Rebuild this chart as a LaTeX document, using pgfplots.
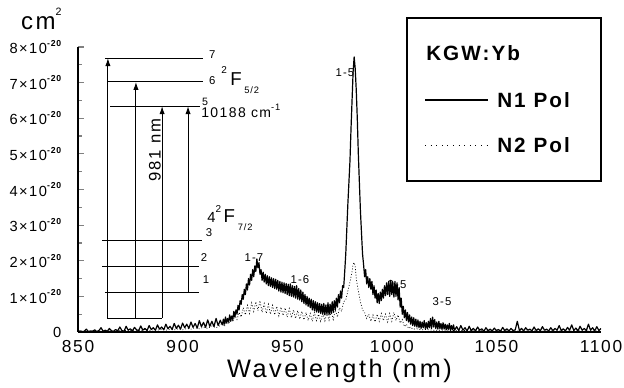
\documentclass[border=0pt]{standalone}
\usepackage{pgfplots}
\pgfplotsset{compat=1.18}
\usepackage{fontspec}
\setmainfont{Liberation Sans}[LetterSpace=10]
\usetikzlibrary{arrows.meta}
\newcommand\sci[1]{#1×10\raisebox{0.95ex}{\fontsize{6.5}{6.5}\selectfont\bfseries -20}}
\pgfplotstableread{
x y
850 0.01
851 0.03
852 0.01
853 0.02
854 0.08
855 0.01
856 0.03
857 0.02
858 0.06
859 0.01
860 0.04
861 0.12
862 0.02
863 0.05
864 0.02
865 0.10
866 0.03
867 0.02
868 0.07
869 0.03
870 0.14
871 0.04
872 0.02
873 0.16
874 0.05
875 0.09
876 0.03
877 0.13
878 0.06
879 0.04
880 0.17
881 0.05
882 0.10
883 0.04
884 0.18
885 0.07
886 0.12
887 0.05
888 0.20
889 0.08
890 0.14
891 0.06
892 0.22
893 0.09
894 0.16
895 0.07
896 0.24
897 0.10
898 0.19
899 0.08
900 0.25
901 0.12
902 0.22
903 0.10
904 0.28
905 0.13
906 0.24
907 0.11
908 0.32
909 0.15
910 0.27
911 0.13
912 0.34
913 0.16
914 0.30
915 0.15
916 0.38
917 0.18
918 0.33
919 0.20
919.5 0.36
920 0.22
920.5 0.42
921 0.25
921.5 0.38
922 0.28
922.5 0.48
923 0.30
923.5 0.45
924 0.35
924.5 0.58
925 0.42
925.5 0.62
926 0.50
926.5 0.75
927 0.62
927.5 0.88
928 0.78
928.5 1.05
929 0.92
929.5 1.20
930 1.05
930.5 1.35
931 1.18
931.5 1.50
932 1.32
932.5 1.62
933 1.45
933.5 1.75
934 1.55
934.5 1.85
935 1.70
935.5 2.05
936 1.80
936.5 1.95
937 1.62
937.5 1.75
938 1.45
938.5 1.68
939 1.40
939.5 1.62
940 1.35
940.5 1.58
941 1.30
941.5 1.55
942 1.28
942.5 1.52
943 1.25
943.5 1.50
944 1.22
944.5 1.48
945 1.20
945.5 1.45
946 1.15
946.5 1.42
947 1.12
947.5 1.40
948 1.10
948.5 1.38
949 1.08
949.5 1.36
950 1.05
950.5 1.34
951 1.02
951.5 1.35
952 1.00
952.5 1.30
953 0.98
953.5 1.28
954 0.95
954.5 1.30
955 0.92
955.5 1.22
956 0.90
956.5 1.18
957 0.85
957.5 1.12
958 0.80
958.5 1.05
959 0.76
959.5 1.00
960 0.72
960.5 0.95
961 0.68
961.5 0.92
962 0.62
962.5 0.88
963 0.60
963.5 0.85
964 0.56
964.5 0.82
965 0.55
965.5 0.80
966 0.52
966.5 0.78
967 0.50
967.5 0.80
968 0.48
968.5 0.76
969 0.50
969.5 0.82
970 0.48
970.5 0.78
971 0.52
971.5 0.85
972 0.55
972.5 0.88
973 0.62
973.5 0.95
974 0.70
974.5 1.05
975 0.82
975.5 1.15
976 0.95
976.5 1.30
977 1.25
977.5 1.70
978 2.20
978.5 2.90
979 3.60
979.5 4.20
980 4.80
980.5 5.70
981 6.50
981.5 7.30
982 7.72
982.5 7.40
983 6.80
983.5 6.00
984 5.00
984.5 4.20
985 3.40
985.5 2.80
986 2.20
986.5 1.90
987 1.55
987.5 1.75
988 1.35
988.5 1.55
989 1.25
989.5 1.50
990 1.20
990.5 1.42
991 1.05
991.5 1.30
992 0.95
992.5 1.18
993 0.82
993.5 1.08
994 0.80
994.5 1.12
995 0.88
995.5 1.20
996 0.95
996.5 1.30
997 1.02
997.5 1.38
998 1.05
998.5 1.42
999 1.00
999.5 1.45
1000 1.05
1000.5 1.40
1001 0.98
1001.5 1.42
1002 1.00
1002.5 1.38
1003 0.90
1003.5 1.25
1004 0.70
1004.5 0.95
1005 0.50
1005.5 0.72
1006 0.40
1006.5 0.62
1007 0.32
1007.5 0.55
1008 0.28
1008.5 0.48
1009 0.22
1009.5 0.42
1010 0.18
1010.5 0.40
1011 0.16
1011.5 0.36
1012 0.14
1012.5 0.34
1013 0.12
1013.5 0.30
1014 0.10
1014.5 0.28
1015 0.12
1015.5 0.32
1016 0.10
1016.5 0.26
1017 0.09
1017.5 0.30
1018 0.12
1018.5 0.38
1019 0.10
1019.5 0.42
1020 0.14
1020.5 0.35
1021 0.10
1021.5 0.28
1022 0.08
1022.5 0.30
1023 0.09
1023.5 0.24
1024 0.07
1024.5 0.26
1025 0.08
1025.5 0.22
1026 0.06
1026.5 0.20
1027 0.07
1027.5 0.24
1028 0.05
1028.5 0.18
1029 0.06
1029.5 0.20
1030 0.05
1031 0.15
1032 0.04
1033 0.18
1034 0.05
1035 0.12
1036 0.03
1037 0.16
1038 0.04
1039 0.10
1040 0.03
1041 0.14
1042 0.05
1043 0.09
1044 0.02
1045 0.12
1046 0.04
1047 0.08
1048 0.03
1049 0.11
1050 0.04
1051 0.07
1052 0.02
1053 0.13
1054 0.04
1055 0.09
1056 0.03
1057 0.10
1058 0.04
1059 0.06
1060 0.30
1061 0.04
1062 0.10
1063 0.03
1064 0.12
1065 0.05
1066 0.08
1067 0.03
1068 0.14
1069 0.04
1070 0.09
1071 0.03
1072 0.15
1073 0.05
1074 0.08
1075 0.03
1076 0.12
1077 0.04
1078 0.10
1079 0.05
1080 0.18
1081 0.04
1082 0.09
1083 0.03
1084 0.13
1085 0.05
1086 0.20
1087 0.04
1088 0.11
1089 0.03
1090 0.16
1091 0.05
1092 0.10
1093 0.04
1094 0.22
1095 0.05
1096 0.12
1097 0.03
1098 0.15
1099 0.04
1100 0.10
}\NOne
\pgfplotstableread{
x y
850 0.01
852 0.03
854 0.01
856 0.02
858 0.04
860 0.02
862 0.03
864 0.02
866 0.05
868 0.02
870 0.04
872 0.03
874 0.06
876 0.03
878 0.05
880 0.04
882 0.07
884 0.04
886 0.06
888 0.05
890 0.08
892 0.05
894 0.07
896 0.06
898 0.09
900 0.06
902 0.10
904 0.08
906 0.12
908 0.09
910 0.14
912 0.10
914 0.17
916 0.12
918 0.18
919 0.28
920 0.15
921 0.32
922 0.22
923 0.40
924 0.28
925 0.48
926 0.35
927 0.55
928 0.42
929 0.68
930 0.48
931 0.75
932 0.52
933 0.82
934 0.58
935 0.85
936 0.60
937 0.88
938 0.55
939 0.80
940 0.52
941 0.78
942 0.50
943 0.75
944 0.48
945 0.72
946 0.45
947 0.70
948 0.46
949 0.68
950 0.42
951 0.66
952 0.40
953 0.62
954 0.38
955 0.60
956 0.36
957 0.58
958 0.34
959 0.55
960 0.32
961 0.52
962 0.30
963 0.55
964 0.32
965 0.50
966 0.30
967 0.52
968 0.31
969 0.55
970 0.33
971 0.58
972 0.35
973 0.62
974 0.42
975 0.68
976 0.58
977 0.85
978 0.90
979 1.15
980 1.40
981 1.70
981.5 1.90
982 1.95
982.5 1.85
983 1.50
984 1.15
985 0.85
986 0.62
987 0.55
988 0.38
989 0.50
990 0.30
991 0.48
992 0.28
993 0.50
994 0.30
995 0.52
996 0.32
997 0.50
998 0.28
999 0.52
1000 0.30
1001 0.55
1002 0.32
1003 0.48
1004 0.25
1005 0.35
1006 0.15
1007 0.22
1008 0.10
1009 0.14
1010 0.08
1012 0.09
1014 0.06
1016 0.07
1020 0.05
1025 0.05
1030 0.04
1040 0.04
1050 0.03
1060 0.03
1070 0.03
1080 0.03
1090 0.03
1100 0.03
}\NTwo
\begin{document}
\begin{tikzpicture}
\useasboundingbox (0,0) rectangle (468pt,291pt);
\begin{axis}[
  at={(58.5pt,42pt)}, anchor=south west,
  scale only axis, width=392.25pt, height=213.75pt,
  xmin=850, xmax=1100, ymin=0, ymax=8,
  axis x line*=bottom, axis y line*=left,
  axis line style={line width=1.1pt},
  xtick={850,900,950,1000,1050,1100},
  xticklabels={850,900,950,1000,1050,1100},
  xtick style={draw=none},
  xticklabel style={font=\fontsize{13}{13}\selectfont, yshift=-3pt},
  ytick={0,1,2,3,4,5,6,7,8},
  minor ytick={0.5,1.5,2.5,3.5,4.5,5.5,6.5,7.5},
  yticklabels={0,\sci1,\sci2,\sci3,\sci4,\sci5,\sci6,\sci7,\sci8},
  yticklabel style={font=\fontsize{11}{11}\selectfont, xshift=-9pt},
  tick align=inside,
  major tick length=4.5pt, minor tick length=3pt,
  ytick style={line width=0.9pt},
  minor tick style={line width=0.9pt},
  xlabel={Wavelength (nm)},
  xlabel style={font=\fontsize{19}{19}\selectfont, yshift=2pt},
]
\addplot[black, line width=0.5pt, dash pattern=on 0.7pt off 1.4pt] table[x=x,y=y] {\NTwo};
\addplot[black, line width=0.9pt, line join=round] table[x=x,y=y] {\NOne};
% energy levels
\addplot[black, line width=0.8pt, forget plot] coordinates {(862.9,7.69) (909.8,7.69)};
\addplot[black, line width=0.8pt, forget plot] coordinates {(863.9,7.02) (909.8,7.02)};
\addplot[black, line width=0.8pt, forget plot] coordinates {(865.3,6.34) (908.3,6.34)};
\addplot[black, line width=0.8pt, forget plot] coordinates {(861.5,2.58) (909.3,2.58)};
\addplot[black, line width=0.8pt, forget plot] coordinates {(861.5,1.85) (907.8,1.85)};
\addplot[black, line width=0.8pt, forget plot] coordinates {(862.9,1.12) (907.8,1.12)};
\addplot[black, line width=0.8pt, forget plot] coordinates {(863.9,0.39) (890.2,0.39)};
\addplot[black, line width=0.8pt, -{Latex[length=6pt,width=4pt]}, forget plot] coordinates {(864.3,0.39) (864.3,7.69)};
\addplot[black, line width=0.8pt, -{Latex[length=6pt,width=4pt]}, forget plot] coordinates {(877.7,0.39) (877.7,7.02)};
\addplot[black, line width=0.8pt, -{Latex[length=6pt,width=4pt]}, forget plot] coordinates {(890.2,0.39) (890.2,6.34)};
\addplot[black, line width=0.8pt, -{Latex[length=6pt,width=4pt]}, forget plot] coordinates {(902.6,1.12) (902.6,6.34)};
% labels
\node[font=\fontsize{8.5}{8.5}\selectfont, anchor=west, inner sep=0pt] at (axis cs:912.6,7.78) {7};
\node[font=\fontsize{8.5}{8.5}\selectfont, anchor=west, inner sep=0pt] at (axis cs:912.6,7.07) {6};
\node[anchor=base west, inner sep=0pt] at (axis cs:918.4,6.91) {\raisebox{9pt}{\fontsize{7.5}{7.5}\selectfont 2}\hspace{2.5pt}{\fontsize{14}{14}\selectfont F}\hspace{2pt}\raisebox{-6pt}{\fontsize{7}{7}\selectfont 5/2}};
\node[font=\fontsize{8}{8}\selectfont, inner sep=0pt] at (axis cs:910.7,6.46) {5};
\node[font=\fontsize{10.5}{10.5}\selectfont, anchor=west, inner sep=0pt] at (axis cs:908.8,6.20) {10188 cm\raisebox{0.9ex}{\fontsize{7}{7}\selectfont -1}};
\node[font=\fontsize{12.5}{12.5}\selectfont, rotate=90, inner sep=0pt] at (axis cs:886.8,5.11) {981 nm};
\node[anchor=base west, inner sep=0pt] at (axis cs:911.7,3.06) {{\fontsize{11}{11}\selectfont 4}\raisebox{8pt}{\fontsize{7.5}{7.5}\selectfont 2}\hspace{2pt}{\fontsize{14}{14}\selectfont F}\hspace{2pt}\raisebox{-6pt}{\fontsize{7}{7}\selectfont 7/2}};
\node[font=\fontsize{8.5}{8.5}\selectfont, inner sep=0pt] at (axis cs:912.6,2.78) {3};
\node[font=\fontsize{8.5}{8.5}\selectfont, inner sep=0pt] at (axis cs:910.2,2.08) {2};
\node[font=\fontsize{8.5}{8.5}\selectfont, inner sep=0pt] at (axis cs:911.2,1.46) {1};
\node[font=\fontsize{8.5}{8.5}\selectfont, inner sep=0pt] at (axis cs:977.6,7.27) {1-5};
\node[font=\fontsize{8.5}{8.5}\selectfont, inner sep=0pt] at (axis cs:934.1,2.08) {1-7};
\node[font=\fontsize{8.5}{8.5}\selectfont, inner sep=0pt] at (axis cs:956.1,1.46) {1-6};
\node[font=\fontsize{8.5}{8.5}\selectfont, inner sep=0pt] at (axis cs:1002.5,1.32) {2-5};
\node[font=\fontsize{8.5}{8.5}\selectfont, inner sep=0pt] at (axis cs:1024,0.84) {3-5};
\end{axis}
% y unit
\node[font=\fontsize{18}{18}\selectfont, inner sep=0pt] at (31pt,276.75pt) {cm\raisebox{1.1ex}{\fontsize{8}{8}\selectfont 2}};
% legend
\draw[line width=0.8pt] (305.25pt,277.5pt) rectangle (450.75pt,155.25pt);
\node[font=\fontsize{15.5}{15.5}\selectfont\bfseries, anchor=west, inner sep=0pt] at (319.5pt,251.25pt) {KGW:Yb};
\draw[line width=0.9pt] (318.75pt,216pt) -- (366pt,216pt);
\node[font=\fontsize{15.5}{15.5}\selectfont\bfseries, anchor=west, inner sep=0pt] at (372.75pt,216pt) {N1 Pol};
\draw[line width=0.7pt, dash pattern=on 0.7pt off 3.5pt] (318.75pt,182.25pt) -- (366pt,182.25pt);
\node[font=\fontsize{15.5}{15.5}\selectfont\bfseries, anchor=west, inner sep=0pt] at (372.75pt,182.25pt) {N2 Pol};
\end{tikzpicture}
\end{document}
